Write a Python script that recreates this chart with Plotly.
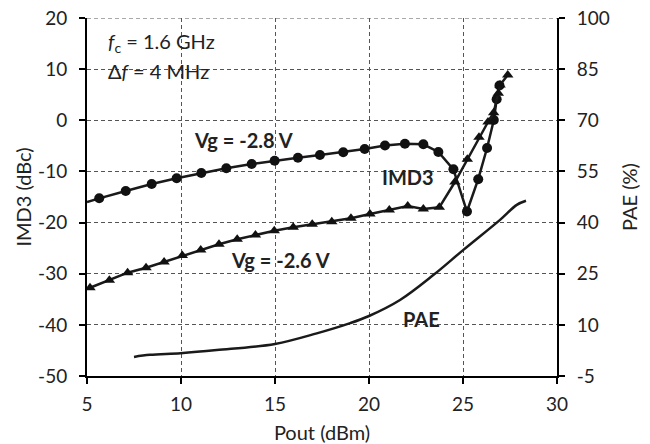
import plotly.graph_objects as go

# Vg = -2.8 V (circles), IMD3 in dBc; first point is where the line meets the left axis
pout_28 = [5.0, 5.65, 7.06, 8.44, 9.77, 11.08, 12.41, 13.76, 14.98, 16.22, 17.39, 18.63,
           19.77, 20.85, 21.91, 22.89, 23.69, 24.49, 25.21, 25.81, 26.28, 26.64, 26.79, 26.94]
imd3_28 = [-16.0, -15.26, -13.83, -12.46, -11.35, -10.31, -9.39, -8.55, -7.90, -7.32, -6.79, -6.24,
           -5.62, -4.93, -4.58, -4.70, -6.20, -9.59, -17.84, -11.52, -5.42, 0.05, 4.12, 6.80]

# Vg = -2.6 V (triangles), IMD3 in dBc
pout_26 = [5.16, 6.19, 7.16, 8.14, 9.10, 10.07, 11.05, 12.02, 12.99, 13.96, 14.96, 15.97,
           16.98, 18.02, 19.04, 20.05, 21.08, 22.06, 22.89, 23.74, 24.57, 25.23, 25.85,
           26.33, 26.63, 26.88, 26.97, 27.38]
imd3_26 = [-32.74, -31.29, -29.80, -28.83, -27.71, -26.44, -25.37, -24.25, -23.27, -22.43,
           -21.59, -20.93, -20.34, -19.83, -19.17, -18.33, -17.54, -16.76, -17.35, -17.02,
           -12.07, -7.63, -3.33, -0.34, 1.48, 5.28, 6.90, 8.85]

# PAE (%)
pout_pae = [7.5, 8.35, 9.98, 11.9, 15.0, 17.22, 19.0, 20.0, 21.65, 23.42, 25.02, 26.97, 27.86, 28.35]
pae = [0.6, 1.2, 1.7, 2.6, 4.4, 7.5, 10.5, 12.6, 17.3, 24.6, 32.0, 40.8, 45.2, 46.4]

x_ticks = [5, 10, 15, 20, 25, 30]
y_ticks = [-50, -40, -30, -20, -10, 0, 10, 20]
y_labels = ["-50", "-40", "-30", "-20", "-10", "0", "10", "20"]
y2_ticks = [-5, 10, 25, 40, 55, 70, 85, 100]
y2_labels = ["-5", "10", "25", "40", "55", "70", "85", "100"]

FONT = "Lato"
INK = "#1a1a1a"
fig = go.Figure()

# line of the Vg=-2.8 V series (including the segment reaching the axis)
fig.add_trace(go.Scatter(x=pout_28, y=imd3_28, mode="lines",
                         line=dict(color=INK, width=2.5), showlegend=False))
# markers of the Vg=-2.8 V series (measured points only)
fig.add_trace(go.Scatter(x=pout_28[1:], y=imd3_28[1:], mode="markers",
                         marker=dict(symbol="circle", size=10, color="#111111", opacity=1,
                                     line=dict(width=0)),
                         showlegend=False))
fig.add_trace(go.Scatter(x=pout_26, y=imd3_26, mode="lines+markers",
                         line=dict(color=INK, width=2.5),
                         marker=dict(symbol="triangle-up", size=10, color="#111111", opacity=1,
                                     line=dict(width=0)),
                         showlegend=False))
fig.add_trace(go.Scatter(x=pout_pae, y=pae, mode="lines", yaxis="y2",
                         line=dict(color=INK, width=2.5, shape="spline"),
                         showlegend=False))

grid = dict(showgrid=True, gridcolor="#555555", gridwidth=1, griddash="4px,3px")
tick_font = dict(family=FONT, size=19, color="#222222")
title_font = dict(family=FONT, size=20, color="#222222")

fig.update_layout(
    width=650, height=444,
    margin=dict(l=87, r=93, t=18, b=68, autoexpand=False),
    paper_bgcolor="white", plot_bgcolor="white",
    font=dict(family=FONT, size=19, color="#222222"),
    xaxis=dict(range=[5, 30], tickvals=x_ticks, ticks="outside", ticklen=6, automargin=False,
               tickcolor="black", tickwidth=1.5, tickfont=tick_font, ticklabelstandoff=4,
               showline=True, linecolor="black", linewidth=2, mirror=False,
               zeroline=False, title=dict(text="Pout (dBm)", font=title_font, standoff=14),
               **grid),
    yaxis=dict(range=[-50, 20], tickvals=y_ticks, ticktext=y_labels, ticks="outside", ticklen=6,
               automargin=False,
               tickcolor="black", tickwidth=1.5, tickfont=tick_font, ticklabelstandoff=8,
               showline=True, linecolor="black", linewidth=2,
               zeroline=False, title=dict(text="IMD3 (dBc)", font=title_font, standoff=1),
               **grid),
    yaxis2=dict(range=[-5, 100], tickvals=y2_ticks, ticktext=y2_labels, overlaying="y",
                side="right", ticks="outside", ticklen=6, tickcolor="black", tickwidth=1.5,
                automargin=False,
                tickfont=tick_font, ticklabelstandoff=8,
                showline=True, linecolor="black", linewidth=2, showgrid=False,
                zeroline=False, title=dict(text="PAE (%)", font=title_font, standoff=14)),
)

# top boundary dashed line (y = 20)
fig.add_shape(type="line", xref="paper", yref="y", x0=0, x1=1, y0=20, y1=20,
              line=dict(color="#555555", width=1, dash="4px,3px"))

ann_font = dict(family=FONT, size=20, color="#222222")
bold_font = dict(family=FONT, size=20, color="#222222")
fig.add_annotation(x=6.0, y=15.2, xref="x", yref="y", xanchor="left", yanchor="middle",
                   text="<i>f</i><sub>c</sub> = 1.6 GHz", showarrow=False, font=ann_font)
fig.add_annotation(x=6.0, y=9.6, xref="x", yref="y", xanchor="left", yanchor="middle",
                   text="Δ<i>f</i> = 4 MHz", showarrow=False, font=ann_font)
fig.add_annotation(x=13.3, y=-3.9, xref="x", yref="y", text="<b>Vg = -2.8 V</b>",
                   showarrow=False, font=bold_font)
fig.add_annotation(x=22.07, y=-11.0, xref="x", yref="y", text="<b>IMD3</b>",
                   showarrow=False, font=bold_font)
fig.add_annotation(x=15.27, y=-27.3, xref="x", yref="y", text="<b>Vg = -2.6 V</b>",
                   showarrow=False, font=bold_font)
fig.add_annotation(x=22.77, y=-38.8, xref="x", yref="y", text="<b>PAE</b>",
                   showarrow=False, font=bold_font)

fig.write_html("out.html")
